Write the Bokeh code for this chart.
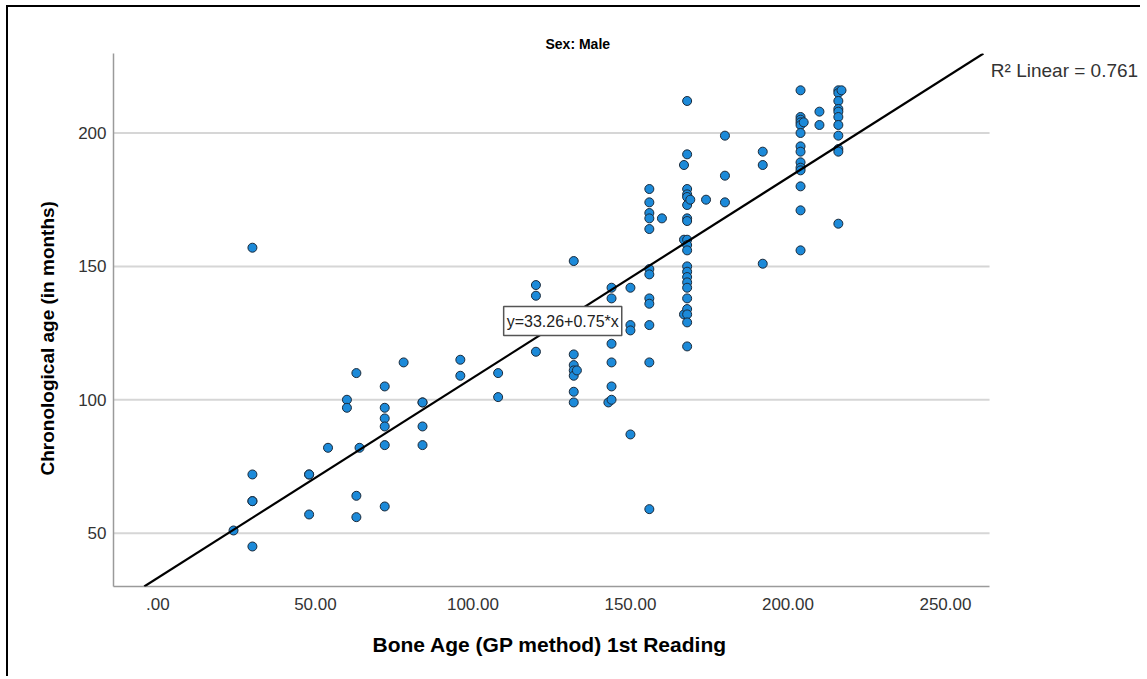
from bokeh.plotting import figure
from bokeh.models import (Range1d, FixedTicker, Label, Slope, ColumnDataSource,
                          Title)
from bokeh.embed import file_html
from bokeh.resources import INLINE

# ---- data ----
bone_age = [24,
            30, 30, 30, 30, 30,
            48, 48, 48,
            54,
            60, 60,
            63, 63, 63,
            64,
            72, 72, 72, 72, 72, 72,
            78,
            84, 84, 84, 84,
            96, 96,
            108, 108,
            120, 120, 120,
            132, 132, 132, 132, 132, 132, 132,
            133,
            143,
            144, 144, 144, 144, 144, 144,
            150, 150, 150, 150,
            156, 156, 156, 156, 156, 156, 156, 156, 156, 156, 156, 156,
            160,
            167, 167, 167,
            168, 168, 168, 168, 168, 168, 168, 168, 168, 168, 168,
            168, 168, 168, 168, 168, 168, 168, 168, 168, 168,
            169,
            174,
            180, 180, 180,
            192, 192, 192,
            204, 204, 204, 204, 204, 204, 204, 204, 204, 204, 204, 204, 204, 204,
            205,
            210, 210,
            216, 216, 216, 216, 216, 216, 216, 216, 216, 216, 216,
            217]
chron_age = [51,
             157, 72, 62, 62, 45,
             72, 72, 57,
             82,
             100, 97,
             110, 64, 56,
             82,
             105, 97, 93, 90, 83, 60,
             114,
             99, 99, 90, 83,
             115, 109,
             110, 101,
             143, 139, 118,
             152, 117, 113, 111, 109, 103, 99,
             111,
             99,
             142, 138, 121, 114, 105, 100,
             142, 128, 126, 87,
             179, 174, 170, 168, 164, 149, 147, 138, 136, 128, 114, 59,
             168,
             188, 160, 132,
             212, 192, 179, 177, 176, 173, 168, 167, 160, 158, 156,
             150, 148, 146, 144, 142, 138, 134, 132, 129, 120,
             175,
             175,
             199, 184, 174,
             193, 188, 151,
             216, 206, 205, 204, 203, 200, 195, 193, 189, 187, 186, 180, 171, 156,
             204,
             208, 203,
             216, 215, 212, 209, 208, 206, 203, 199, 194, 193, 166,
             216]

fit_intercept = 33.26
fit_slope = 0.75
r_squared = 0.761

x_ticks = [0, 50, 100, 150, 200, 250]
x_tick_labels = [".00", "50.00", "100.00", "150.00", "200.00", "250.00"]
y_ticks = [50, 100, 150, 200]
y_tick_labels = ["50", "100", "150", "200"]

title_text = "Sex: Male"
x_label = "Bone Age (GP method) 1st Reading"
y_label = "Chronological age (in months)"

FONT = "Liberation Sans"

# axis extent of the chart (the frame is widened to the right so that the
# R-squared note, which sits outside the axes, can be drawn)
X_MIN, X_MAX = -14.1, 264.0
Y_MIN, Y_MAX = 30.0, 229.8
X_VIEW_MAX = 311.6

p = figure(width=1134, height=671, output_backend="svg", toolbar_location=None,
           title=None,
           x_range=Range1d(X_MIN, X_VIEW_MAX), y_range=Range1d(Y_MIN, Y_MAX),
           min_border_left=105, min_border_right=3,
           min_border_top=46, min_border_bottom=92)
p.styles = {"border-top": "2px solid black", "border-left": "2px solid black",
            "margin-top": "5px", "margin-left": "6px"}

p.background_fill_color = "white"
p.border_fill_color = "white"
p.outline_line_color = None

# title
p.add_layout(Title(text=title_text, align="left", offset=432, standoff=4,
                   text_font=FONT, text_font_size="14px",
                   text_font_style="bold", text_color="black"), "above")

# grid lines (limited to the axis extent)
p.xgrid.grid_line_color = None
p.ygrid.grid_line_color = None
p.segment(x0=[X_MIN] * len(y_ticks), y0=y_ticks,
          x1=[X_MAX] * len(y_ticks), y1=y_ticks,
          line_color="#d6d6d6", line_width=2)

# axes
for ax in (p.xaxis[0], p.yaxis[0]):
    ax.axis_line_color = "#9a9a9a"
    ax.axis_line_width = 1.5
    ax.major_tick_line_color = None
    ax.minor_tick_line_color = None
    ax.major_tick_out = 0
    ax.major_tick_in = 0
    ax.minor_tick_out = 0
    ax.major_label_text_font = FONT
    ax.major_label_text_font_size = "17px"
    ax.major_label_text_color = "#333333"

p.xaxis.bounds = (X_MIN, X_MAX)
p.xaxis.ticker = FixedTicker(ticks=x_ticks)
p.xaxis.major_label_overrides = {t: l for t, l in zip(x_ticks, x_tick_labels)}
p.xaxis.major_label_standoff = 11
p.yaxis.ticker = FixedTicker(ticks=y_ticks)
p.yaxis.major_label_overrides = {t: l for t, l in zip(y_ticks, y_tick_labels)}
p.yaxis.major_label_standoff = 7

# axis titles (placed as side titles so they can be aligned like the original)
p.add_layout(Title(text=x_label, align="left", offset=259, standoff=36,
                   text_font=FONT, text_font_size="21px",
                   text_font_style="bold", text_color="black"), "below")
p.add_layout(Title(text=y_label, align="left", offset=111, standoff=35,
                   text_font=FONT, text_font_size="19px",
                   text_font_style="bold", text_color="black"), "left")

# regression line
p.add_layout(Slope(gradient=fit_slope, y_intercept=fit_intercept,
                   line_color="black", line_width=2.2))

# points
src = ColumnDataSource(dict(x=bone_age, y=chron_age))
p.scatter("x", "y", source=src, size=9, fill_color="#1c8ad9",
          line_color="#1b2a3a", line_width=1)

# R squared note
p.add_layout(Label(x=264.4, y=223.3, text="R\u00b2 Linear = %.3f" % r_squared,
                   text_font=FONT, text_font_size="19px",
                   text_align="left", text_baseline="middle",
                   text_color="#333333"))

# equation box
p.add_layout(Label(x=128.5, y=129.5,
                   text="y=%.2f+%.2f*x" % (fit_intercept, fit_slope),
                   text_font=FONT, text_font_size="16px",
                   text_align="center", text_baseline="middle",
                   text_color="#222222",
                   background_fill_color="white",
                   border_line_color="#555555", border_line_width=1.5,
                   padding=dict(x=3, y=6)))

open("out.html", "w").write(file_html(p, INLINE))
